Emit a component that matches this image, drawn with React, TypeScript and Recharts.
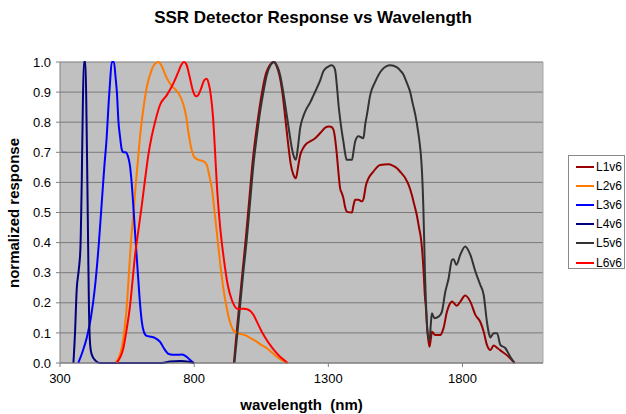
import React from "react";
import { LineChart, Line, XAxis, YAxis, CartesianGrid, Legend, ReferenceLine } from "recharts";

// wavelength (nm), normalized response
const L1v6: number[][] = [
  [948, 0], [958, 0.1], [969, 0.2], [981, 0.31], [993, 0.42], [1005, 0.54], [1018, 0.67], [1030, 0.76],
  [1043, 0.845], [1055, 0.91], [1068, 0.963], [1082, 0.99], [1096, 1.0], [1108, 0.985], [1118, 0.955],
  [1130, 0.89], [1140, 0.81], [1150, 0.73], [1160, 0.66], [1170, 0.625], [1179, 0.614], [1187, 0.65],
  [1195, 0.69], [1207, 0.715], [1220, 0.73], [1232, 0.736], [1251, 0.747], [1270, 0.764], [1290, 0.783],
  [1300, 0.786], [1310, 0.785], [1319, 0.775], [1326, 0.74], [1332, 0.69], [1338, 0.63], [1344, 0.58],
  [1350, 0.565], [1356, 0.548], [1362, 0.52], [1369, 0.503], [1388, 0.5], [1394, 0.525], [1400, 0.542],
  [1412, 0.542], [1425, 0.537], [1431, 0.545], [1440, 0.59], [1450, 0.614], [1468, 0.636], [1493, 0.658],
  [1524, 0.66], [1540, 0.656], [1556, 0.647], [1570, 0.633], [1587, 0.614], [1600, 0.59], [1611, 0.559],
  [1620, 0.527], [1630, 0.49], [1638, 0.45], [1645, 0.415], [1650, 0.37], [1655, 0.304], [1660, 0.22],
  [1664, 0.18], [1668, 0.12], [1672, 0.08], [1677, 0.054], [1682, 0.08], [1686, 0.104], [1698, 0.093],
  [1717, 0.093], [1729, 0.115], [1742, 0.17], [1755, 0.2], [1761, 0.204], [1767, 0.2], [1779, 0.19],
  [1792, 0.204], [1810, 0.224], [1829, 0.204], [1848, 0.16], [1866, 0.137], [1879, 0.104], [1891, 0.06],
  [1904, 0.043], [1916, 0.058], [1931, 0.049], [1947, 0.038], [1972, 0.021], [1994, 0],
];

const L2v6: number[][] = [
  [505, 0], [518, 0.015], [530, 0.05], [540, 0.11], [549, 0.19], [557, 0.3], [565, 0.41], [574, 0.5],
  [581, 0.58], [590, 0.67], [598, 0.75], [610, 0.84], [623, 0.915], [640, 0.97], [655, 0.995], [667, 1.0],
  [680, 0.985], [692, 0.958], [705, 0.935], [717, 0.92], [741, 0.897], [760, 0.858], [770, 0.82],
  [778, 0.77], [790, 0.71], [800, 0.685], [816, 0.675], [835, 0.67], [847, 0.658], [858, 0.615],
  [866, 0.58], [875, 0.51], [884, 0.437], [897, 0.33], [910, 0.24], [922, 0.18], [932, 0.14], [945, 0.11],
  [960, 0.099], [980, 0.095], [996, 0.09], [1015, 0.08], [1033, 0.071], [1050, 0.06], [1071, 0.049],
  [1090, 0.035], [1108, 0.021], [1125, 0.01], [1145, 0],
];

const L3v6: number[][] = [
  [368, 0], [385, 0.04], [400, 0.085], [415, 0.15], [430, 0.25], [445, 0.4], [455, 0.525], [465, 0.65],
  [474, 0.75], [481, 0.86], [487, 0.94], [493, 1.0], [501, 1.0], [507, 0.95], [512, 0.9], [518, 0.8],
  [524, 0.75], [530, 0.71], [536, 0.7], [546, 0.7], [552, 0.69], [560, 0.66], [567, 0.6], [573, 0.525],
  [580, 0.43], [590, 0.3], [598, 0.2], [605, 0.137], [612, 0.105], [623, 0.09], [640, 0.087], [655, 0.083],
  [673, 0.07], [690, 0.045], [705, 0.03], [730, 0.027], [755, 0.028], [770, 0.022], [785, 0.01], [798, 0],
];

const L4v6: number[][] = [
  [350, 0], [356, 0.1], [362, 0.24], [370, 0.31], [376, 0.38], [381, 0.6], [385, 0.85], [389, 1.0],
  [395, 1.0], [399, 0.8], [402, 0.6], [405, 0.38], [408, 0.18], [411, 0.08], [415, 0.04], [422, 0.02],
  [432, 0.008], [448, 0], [680, 0], [710, 0.005], [750, 0.007], [780, 0.004], [800, 0],
];

const L5v6: number[][] = [
  [950, 0], [960, 0.09], [971, 0.19], [983, 0.3], [996, 0.41], [1008, 0.53], [1021, 0.66], [1033, 0.75],
  [1046, 0.836], [1058, 0.9], [1071, 0.958], [1085, 0.99], [1098, 1.0], [1110, 0.985], [1120, 0.958],
  [1132, 0.9], [1143, 0.836], [1154, 0.77], [1164, 0.714], [1172, 0.685], [1179, 0.675], [1187, 0.72],
  [1195, 0.78], [1207, 0.82], [1220, 0.847], [1232, 0.865], [1245, 0.89], [1257, 0.913], [1270, 0.94],
  [1282, 0.97], [1300, 0.985], [1313, 0.989], [1320, 0.985], [1326, 0.97], [1332, 0.92], [1338, 0.858],
  [1344, 0.81], [1350, 0.77], [1356, 0.736], [1362, 0.7], [1368, 0.675], [1388, 0.675], [1395, 0.71],
  [1400, 0.736], [1412, 0.753], [1431, 0.747], [1437, 0.79], [1444, 0.825], [1456, 0.89], [1475, 0.935],
  [1500, 0.974], [1531, 0.989], [1556, 0.982], [1570, 0.97], [1580, 0.958], [1593, 0.93], [1605, 0.9],
  [1615, 0.86], [1624, 0.825], [1636, 0.76], [1644, 0.7], [1649, 0.636], [1654, 0.52], [1657, 0.415],
  [1660, 0.3], [1663, 0.22], [1670, 0.1], [1677, 0.075], [1682, 0.13], [1686, 0.165], [1695, 0.149],
  [1711, 0.154], [1723, 0.17], [1736, 0.237], [1748, 0.28], [1761, 0.343], [1767, 0.345], [1777, 0.326],
  [1792, 0.36], [1810, 0.387], [1829, 0.36], [1848, 0.304], [1866, 0.26], [1879, 0.226], [1891, 0.137],
  [1898, 0.1], [1904, 0.085], [1916, 0.099], [1929, 0.099], [1941, 0.06], [1960, 0.049], [1978, 0.021],
  [1994, 0],
];

const L6v6: number[][] = [
  [511, 0], [525, 0.02], [536, 0.049], [548, 0.11], [561, 0.19], [570, 0.27], [580, 0.36], [592, 0.44],
  [605, 0.525], [617, 0.61], [629, 0.69], [641, 0.75], [654, 0.8], [673, 0.858], [698, 0.89], [723, 0.93],
  [740, 0.965], [752, 0.99], [762, 1.0], [772, 0.99], [782, 0.955], [797, 0.9], [807, 0.886], [815, 0.89],
  [825, 0.91], [838, 0.94], [846, 0.944], [855, 0.925], [862, 0.89], [870, 0.82], [878, 0.7], [884, 0.6],
  [897, 0.45], [910, 0.35], [925, 0.26], [940, 0.21], [950, 0.19], [960, 0.18], [985, 0.18], [1000, 0.178],
  [1021, 0.16], [1035, 0.135], [1052, 0.104], [1068, 0.08], [1083, 0.06], [1100, 0.04], [1120, 0.021],
  [1135, 0.01], [1148, 0],
];

const xTicks = [300, 800, 1300, 1800];
const yTicks = [0, 0.1, 0.2, 0.3, 0.4, 0.5, 0.6, 0.7, 0.8, 0.9, 1.0];

const toPts = (a: number[][]) => a.map(([x, y]) => ({ x, y }));

const series = [
  { name: "L1v6", data: toPts(L1v6), color: "#990000" },
  { name: "L2v6", data: toPts(L2v6), color: "#FF7A00" },
  { name: "L3v6", data: toPts(L3v6), color: "#0000FF" },
  { name: "L4v6", data: toPts(L4v6), color: "#000080" },
  { name: "L5v6", data: toPts(L5v6), color: "#333333" },
  { name: "L6v6", data: toPts(L6v6), color: "#FF0000" },
];

const FONT = "'Liberation Sans', Arial, sans-serif";

const LegendBox = (props: any) => {
  const payload = props.payload || [];
  return (
    <div
      style={{
        width: 57,
        height: 114,
        boxSizing: "border-box",
        border: "1px solid #8a8a8a",
        background: "#fff",
        paddingTop: 1,
        fontFamily: FONT,
        fontSize: 12,
        color: "#000",
      }}
    >
      {payload.map((p: any) => (
        <div key={p.value} style={{ display: "flex", alignItems: "center", height: 19.2 }}>
          <div style={{ width: 18, height: 2, background: p.color, marginLeft: 7, marginRight: 2 }} />
          <span>{p.value}</span>
        </div>
      ))}
    </div>
  );
};

export default function App() {
  return (
    <div style={{ position: "absolute", left: 0, top: 0, width: 626, height: 414, background: "#fff", fontFamily: FONT }}>
      <div
        style={{
          position: "absolute",
          left: 0,
          width: 626,
          top: 8,
          textAlign: "center",
          fontWeight: "bold",
          fontSize: 17,
          lineHeight: "20px",
        }}
      >
        SSR Detector Response vs Wavelength
      </div>
      <div
        style={{
          position: "absolute",
          left: 60,
          width: 483,
          top: 396,
          textAlign: "center",
          fontWeight: "bold",
          fontSize: 15,
          lineHeight: "18px",
          whiteSpace: "pre",
        }}
      >
        {"wavelength  (nm)"}
      </div>
      <div
        style={{
          position: "absolute",
          left: 13.5 - 100,
          top: 213 - 9,
          width: 200,
          height: 18,
          lineHeight: "18px",
          textAlign: "center",
          fontWeight: "bold",
          fontSize: 15,
          transform: "rotate(-90deg)",
        }}
      >
        normalized response
      </div>
      <div style={{ position: "absolute", left: 0, top: 0 }}>
        <LineChart width={626} height={414} margin={{ top: 62, right: 83, bottom: 0, left: 0 }}>
          <CartesianGrid vertical={false} fill="#C0C0C0" stroke="#7a7a7a" strokeWidth={1} />
          <XAxis
            type="number"
            dataKey="x"
            domain={[300, 2100]}
            ticks={xTicks}
            allowDataOverflow
            height={51}
            tickSize={4}
            tickMargin={7}
            stroke="#808080"
            tick={{ fill: "#000", fontSize: 13, fontFamily: FONT }}
          />
          <YAxis
            type="number"
            dataKey="y"
            domain={[0, 1]}
            ticks={yTicks}
            width={60}
            tickSize={4}
            tickMargin={5}
            stroke="#808080"
            tickFormatter={(v: number) => v.toFixed(1)}
            tick={{ fill: "#000", fontSize: 13, fontFamily: FONT }}
          />
          <ReferenceLine x={2100} stroke="#a8a8a8" />
          {series.map((s) => (
            <Line
              key={s.name}
              data={s.data}
              dataKey="y"
              name={s.name}
              type="monotone"
              stroke={s.color}
              strokeWidth={2}
              dot={false}
              activeDot={false}
              isAnimationActive={false}
            />
          ))}
          <Legend
            layout="vertical"
            align="center"
            verticalAlign="middle"
            content={<LegendBox />}
            wrapperStyle={{ position: "absolute", left: 568, top: 155, width: 57, height: 114 }}
          />
        </LineChart>
      </div>
    </div>
  );
}
